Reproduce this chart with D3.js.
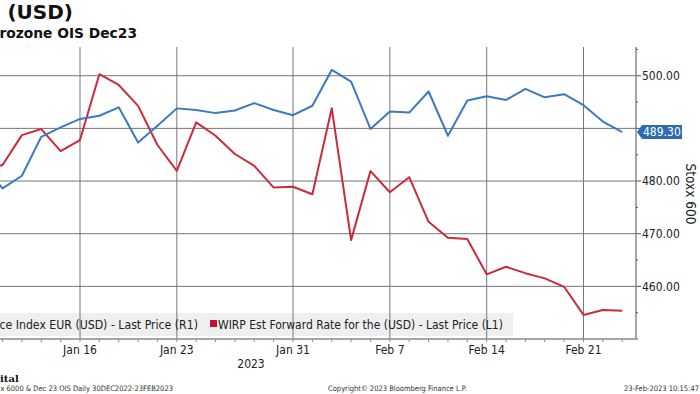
<!DOCTYPE html>
<html>
<head>
<meta charset="utf-8">
<script src="https://cdn.jsdelivr.net/npm/d3@7"></script>
<style>
  body { margin: 0; background: #fff; }
  svg { display: block; font-family: "DejaVu Sans Condensed", "DejaVu Sans", sans-serif; }
</style>
</head>
<body>
<script>
// trading days shown (first one sits just left of the crop)
var days = ["2023-01-09", "2023-01-10", "2023-01-11", "2023-01-12", "2023-01-13",
    "2023-01-16", "2023-01-17", "2023-01-18", "2023-01-19", "2023-01-20",
    "2023-01-23", "2023-01-24", "2023-01-25", "2023-01-26", "2023-01-27",
    "2023-01-30", "2023-01-31", "2023-02-01", "2023-02-02", "2023-02-03",
    "2023-02-06", "2023-02-07", "2023-02-08", "2023-02-09", "2023-02-10",
    "2023-02-13", "2023-02-14", "2023-02-15", "2023-02-16", "2023-02-17",
    "2023-02-20", "2023-02-21", "2023-02-22", "2023-02-23"];

// STOXX Europe 600 Price Index EUR (USD) - right axis
var stoxx = [483.0, 478.6, 481.0, 488.4, 490.2, 491.8, 492.4, 494.0, 487.3, 490.5,
    493.8, 493.5, 492.9, 493.4, 494.8, 493.5, 492.5, 494.3, 501.1, 498.9,
    489.9, 493.2, 493.0, 497.0, 488.6, 495.3, 496.1, 495.4, 497.5, 495.9,
    496.5, 494.4, 491.3, 489.30];

// WIRP Est Forward Rate - left axis (off the crop, inverted)
var wirp = [3.417, 3.400, 3.297, 3.276, 3.352, 3.314, 3.087, 3.124, 3.196, 3.331,
    3.420, 3.253, 3.299, 3.362, 3.403, 3.478, 3.475, 3.501, 3.204, 3.659,
    3.421, 3.494, 3.442, 3.596, 3.651, 3.655, 3.777, 3.751, 3.773, 3.791,
    3.820, 3.917, 3.900, 3.903];

var tickDays = ["2023-01-16", "2023-01-23", "2023-01-31", "2023-02-07", "2023-02-14", "2023-02-21"];
var tickLabels = ["Jan 16", "Jan 23", "Jan 31", "Feb 7", "Feb 14", "Feb 21"];
var rightTicks = [460, 470, 480, 490, 500];

(function () {
    var width = 700, height = 394;
    var left = 0, right = 636, top = 47, bottom = 339;
    var firstIdx = 6; // Jan 9 is the 7th trading day after 30 Dec

    var x = d3.scaleLinear().domain([11, 37]).range([80, 583.5]);
    var yR = d3.scaleLinear().domain([450, 505]).range([bottom, 49.4]);
    var yL = d3.scaleLinear().domain([3.0, 4.0]).range([49, bottom]);

    function xi(d) { return x(days.indexOf(d) + firstIdx); }

    var last = stoxx[stoxx.length - 1], ly = yR(last);

    var svg = d3.select("body").append("svg")
        .attr("width", width)
        .attr("height", height);

    svg.append("defs").append("clipPath").attr("id", "plot")
        .append("rect")
        .attr("x", left).attr("y", top)
        .attr("width", right - left).attr("height", bottom - top);

    // legend band sits under the grid
    svg.append("rect")
        .attr("x", 0).attr("y", 313)
        .attr("width", 513).attr("height", 23)
        .attr("fill", "#efefef");

    // grid
    svg.selectAll(".hg").data(rightTicks).enter().append("line")
        .attr("x1", left).attr("x2", right)
        .attr("y1", function (d) { return yR(d); })
        .attr("y2", function (d) { return yR(d); })
        .attr("stroke", "#777").attr("stroke-width", 1);

    svg.selectAll(".vg").data(tickDays).enter().append("line")
        .attr("x1", xi).attr("x2", xi)
        .attr("y1", top).attr("y2", bottom)
        .attr("stroke", "#777").attr("stroke-width", 1);

    // legend text (left part cut off by the crop)
    svg.append("text")
        .attr("x", 198).attr("y", 329)
        .attr("text-anchor", "end")
        .attr("font-size", 12.2).attr("fill", "#222")
        .text("ce Index EUR (USD) - Last Price (R1)");
    svg.append("rect")
        .attr("x", 210).attr("y", 320)
        .attr("width", 7).attr("height", 7)
        .attr("fill", "#c8102e");
    svg.append("text")
        .attr("x", 218).attr("y", 329)
        .attr("font-size", 12).attr("fill", "#222")
        .text("WIRP Est Forward Rate for the (USD) - Last Price (L1)");

    // series
    var g = svg.append("g").attr("clip-path", "url(#plot)");

    var lineR = d3.line()
        .x(function (d, i) { return x(i + firstIdx); })
        .y(function (d) { return yR(d); });
    var lineL = d3.line()
        .x(function (d, i) { return x(i + firstIdx); })
        .y(function (d) { return yL(d); });

    g.append("path").datum(wirp)
        .attr("d", lineL)
        .attr("fill", "none")
        .attr("stroke", "#cc2a3d").attr("stroke-width", 2)
        .attr("stroke-linejoin", "round");

    g.append("path").datum(stoxx)
        .attr("d", lineR)
        .attr("fill", "none")
        .attr("stroke", "#3b7bbd").attr("stroke-width", 2)
        .attr("stroke-linejoin", "round");

    // bottom axis
    svg.append("line")
        .attr("x1", left).attr("x2", right + 2)
        .attr("y1", bottom).attr("y2", bottom)
        .attr("stroke", "#8a8a8a").attr("stroke-width", 1.5);

    svg.selectAll(".dt").data(days).enter().append("line")
        .attr("x1", xi).attr("x2", xi)
        .attr("y1", bottom).attr("y2", bottom + 3)
        .attr("stroke", "#8a8a8a");

    svg.selectAll(".xl").data(tickDays).enter().append("text")
        .attr("x", xi).attr("y", 354)
        .attr("text-anchor", "middle")
        .attr("font-size", 12).attr("fill", "#222")
        .text(function (d, i) { return tickLabels[i]; });

    svg.append("text")
        .attr("x", 251).attr("y", 368)
        .attr("text-anchor", "middle")
        .attr("font-size", 12).attr("fill", "#222")
        .text("2023");

    // right axis
    svg.append("line")
        .attr("x1", right).attr("x2", right)
        .attr("y1", top).attr("y2", bottom)
        .attr("stroke", "#8a8a8a").attr("stroke-width", 1.5);

    svg.selectAll(".mt").data(d3.range(455, 506, 5)).enter().append("line")
        .attr("x1", right).attr("x2", function (d) { return right + (d % 10 === 0 ? 5 : 2); })
        .attr("y1", function (d) { return yR(d); })
        .attr("y2", function (d) { return yR(d); })
        .attr("stroke", "#555");

    // the 490 label is hidden under the last-price tag
    svg.selectAll(".yl")
        .data(rightTicks.filter(function (d) { return Math.abs(yR(d) - ly) > 10; }))
        .enter().append("text")
        .attr("x", right + 6)
        .attr("y", function (d) { return yR(d); })
        .attr("dy", "0.36em")
        .attr("font-size", 12).attr("fill", "#222")
        .text(function (d) { return d.toFixed(2); });

    svg.append("text")
        .attr("transform", "translate(686,194) rotate(90)")
        .attr("text-anchor", "middle")
        .attr("font-size", 13.5).attr("fill", "#222")
        .text("Stoxx 600");

    // last price tag
    svg.append("path")
        .attr("d", "M" + (right + 1) + "," + ly + "L" + (right + 6) + "," + (ly - 7) +
            "L682," + (ly - 7) + "L682," + (ly + 7) + "L" + (right + 6) + "," + (ly + 7) + "Z")
        .attr("fill", "#2c6cb0");
    svg.append("text")
        .attr("x", right + 7).attr("y", ly)
        .attr("dy", "0.36em")
        .attr("font-size", 12).attr("fill", "#fff")
        .text(last.toFixed(2));

    // titles (cut at the left by the crop)
    svg.append("text")
        .attr("x", 73).attr("y", 19)
        .attr("text-anchor", "end")
        .attr("font-family", "DejaVu Sans")
        .attr("font-weight", "bold").attr("font-size", 20).attr("fill", "#111")
        .text("(USD)");
    svg.append("text")
        .attr("x", 137).attr("y", 38)
        .attr("text-anchor", "end")
        .attr("font-family", "DejaVu Sans")
        .attr("font-weight", "bold").attr("font-size", 13.8).attr("fill", "#111")
        .text("rozone OIS Dec23");

    // footer
    svg.append("text")
        .attr("x", 0).attr("y", 382)
        .attr("font-family", "DejaVu Serif")
        .attr("font-weight", "bold").attr("font-size", 10).attr("fill", "#111")
        .text("ital");
    svg.append("text")
        .attr("x", 173).attr("y", 391)
        .attr("text-anchor", "end")
        .attr("font-size", 7.5).attr("fill", "#333")
        .text("x 6000 & Dec 23 OIS  Daily 30DEC2022-23FEB2023");
    svg.append("text")
        .attr("x", 328).attr("y", 391)
        .attr("font-size", 7.5).attr("fill", "#333")
        .text("Copyright\u00a9 2023 Bloomberg Finance L.P.");
    svg.append("text")
        .attr("x", 699).attr("y", 391)
        .attr("text-anchor", "end")
        .attr("font-size", 7.5).attr("fill", "#333")
        .text("23-Feb-2023 10:15:47");
}());
</script>
</body>
</html>
